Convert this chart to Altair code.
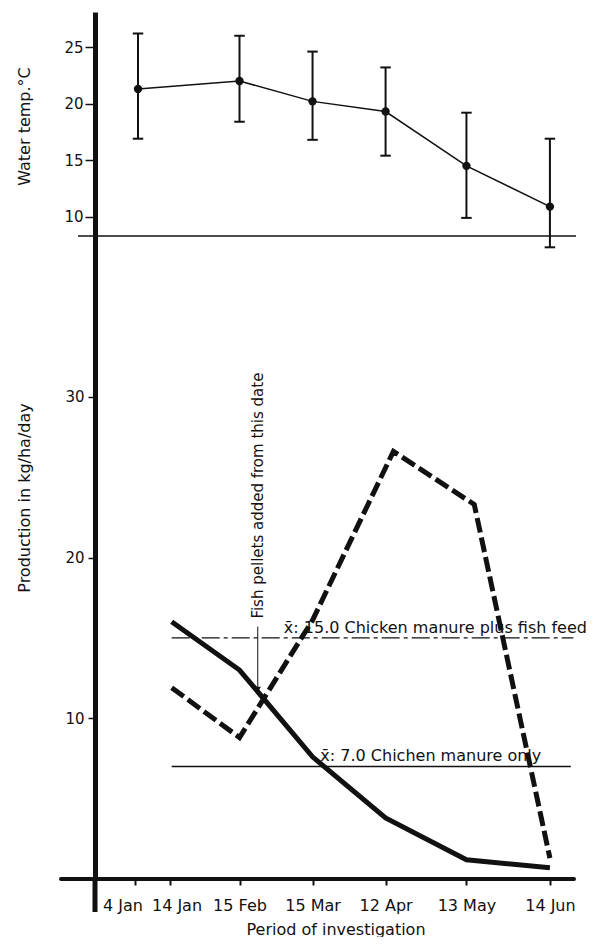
import altair as alt
import pandas as pd

# ---------------- data ----------------
BASE_DATE = "1979-01-04"

tick_dates = ["1979-01-04", "1979-01-14", "1979-02-15", "1979-03-15",
              "1979-04-12", "1979-05-13", "1979-06-14"]
tick_labels = ["4 Jan", "14 Jan", "15 Feb", "15 Mar", "12 Apr", "13 May", "14 Jun"]

temp_dates = ["1979-01-05", "1979-02-15", "1979-03-15", "1979-04-12",
              "1979-05-13", "1979-06-14"]
temp_mean = [21.3, 22.0, 20.2, 19.3, 14.5, 10.9]
temp_high = [26.2, 26.0, 24.6, 23.2, 19.2, 16.9]
temp_low = [16.9, 18.4, 16.8, 15.4, 9.9, 7.3]

manure_dates = ["1979-01-15", "1979-02-15", "1979-03-15", "1979-04-12",
                "1979-05-13", "1979-06-14"]
manure_only = [16.0, 13.0, 7.6, 3.8, 1.2, 0.7]

feed_dates = ["1979-01-15", "1979-02-15", "1979-03-15", "1979-04-15",
              "1979-05-16", "1979-06-14"]
manure_feed = [11.9, 8.8, 16.1, 26.6, 23.3, 1.3]

mean_values = [15.0, 7.0]
mean_labels = ["x\u0304: 15.0 Chicken manure plus fish feed",
               "x\u0304: 7.0 Chichen manure only"]
mean_start = ["1979-01-15", "1979-01-15"]
mean_end = ["1979-06-23", "1979-06-22"]
mean_label_dates = ["1979-03-04", "1979-03-18"]

arrow_date = ["1979-02-22"]
arrow_top = [15.7]
arrow_tip = [11.6]
arrow_text_start = [16.2]
arrow_text = ["Fish pellets added from this date"]


def to_days(dates):
    base = pd.Timestamp(BASE_DATE)
    return [(pd.Timestamp(d) - base).days for d in dates]


# ---------------- style ----------------
W = 481
H_TOP = 224
H_BOT = 643
INK = "#111111"
FONT = "DejaVu Sans"

tick_days = to_days(tick_dates)
label_map = "{" + ",".join(f"'{d}':'{l}'" for d, l in zip(tick_days, tick_labels)) + "}"

# the original axis is stretched at its start: piecewise linear scale
x_scale = alt.Scale(domain=[-11, tick_days[0], tick_days[1], tick_days[2], 171],
                    range=[0, 39.5, 74.5, 144.5, W], nice=False, zero=False)

temp_df = pd.DataFrame({"day": to_days(temp_dates), "mean": temp_mean,
                        "hi": temp_high, "lo": temp_low})
solid_df = pd.DataFrame({"day": to_days(manure_dates), "value": manure_only})
dash_df = pd.DataFrame({"day": to_days(feed_dates), "value": manure_feed})
mean_df = pd.DataFrame({"start": to_days(mean_start), "end": to_days(mean_end),
                        "value": mean_values, "label": mean_labels,
                        "lday": to_days(mean_label_dates)})
arrow_df = pd.DataFrame({"day": to_days(arrow_date), "top": arrow_top,
                         "tip": arrow_tip, "tstart": arrow_text_start,
                         "text": arrow_text})
one = pd.DataFrame({"k": [0]})

# ---------------- top panel ----------------
y_top = alt.Scale(domain=[8.3, 28.1], nice=False, zero=False)
base_t = alt.Chart(temp_df).encode(x=alt.X("day:Q", scale=x_scale, axis=None))

t_line = base_t.mark_line(color=INK, strokeWidth=1.5).encode(
    y=alt.Y("mean:Q", scale=y_top,
            axis=alt.Axis(values=[10, 15, 20, 25], title="Water temp.\u00b0C",
                          domainWidth=5, tickSize=10, tickWidth=1.5,
                          labelPadding=2, labelFontSize=15,
                          titleFontSize=16, titleAngle=270,
                          titleX=-70.5, titleY=H_TOP / 2 + 2,
                          titleAlign="center", titleBaseline="middle"))
)
t_err = base_t.mark_rule(color=INK, strokeWidth=2).encode(y="lo:Q", y2="hi:Q")
t_cap_hi = base_t.mark_point(shape="M -1 0 L 1 0", size=110, strokeWidth=2,
                             color=INK, filled=False, opacity=1).encode(y="hi:Q")
t_cap_lo = base_t.mark_point(shape="M -1 0 L 1 0", size=110, strokeWidth=2,
                             color=INK, filled=False, opacity=1).encode(y="lo:Q")
t_pts = base_t.mark_point(filled=True, size=70, color=INK, opacity=1).encode(y="mean:Q")
t_base = alt.Chart(one).mark_rule(color=INK, strokeWidth=1.5).encode(
    x=alt.value(-17), x2=alt.value(W), y=alt.value(H_TOP))

top = alt.layer(t_line, t_err, t_cap_hi, t_cap_lo, t_pts, t_base).properties(
    width=W, height=H_TOP)

# ---------------- bottom panel ----------------
y_bot = alt.Scale(domain=[0, 40], nice=False, zero=True)
x_axis = alt.Axis(values=tick_days, labelExpr=label_map + "[datum.value]",
                  domain=False, tickSize=6, tickWidth=2, labelFontSize=16,
                  labelPadding=12, labelOverlap=False, labelFlush=False,
                  labelOffset={"condition": [
                      {"test": f"datum.value === {tick_days[0]}", "value": -12},
                      {"test": f"datum.value === {tick_days[1]}", "value": 7}],
                      "value": 0},
                  title="Period of investigation", titleFontSize=16,
                  titleY=55, titleBaseline="alphabetic")
y_axis = alt.Axis(values=[10, 20, 30], title="Production in kg/ha/day",
                  domainWidth=5, tickSize=7, tickWidth=1.5, labelPadding=4,
                  labelFontSize=15, titleFontSize=16, titleAngle=270,
                  titleX=-70.5, titleY=H_BOT / 2 - 60,
                  titleAlign="center", titleBaseline="middle")

b_solid = alt.Chart(solid_df).mark_line(color=INK, strokeWidth=5).encode(
    x=alt.X("day:Q", scale=x_scale, axis=x_axis),
    y=alt.Y("value:Q", scale=y_bot, axis=y_axis))
b_dash = alt.Chart(dash_df).mark_line(color=INK, strokeWidth=5,
                                      strokeDash=[15, 5]).encode(
    x=alt.X("day:Q", scale=x_scale), y=alt.Y("value:Q"))

m1 = alt.Chart(mean_df.iloc[[0]]).mark_rule(color=INK, strokeWidth=1.4,
                                           strokeDash=[18, 4, 4, 4]).encode(
    x="start:Q", x2="end:Q", y="value:Q")
m2 = alt.Chart(mean_df.iloc[[1]]).mark_rule(color=INK, strokeWidth=1.4).encode(
    x="start:Q", x2="end:Q", y="value:Q")
m_text = alt.Chart(mean_df).mark_text(align="left", baseline="alphabetic", dy=-5,
                                      font=FONT, fontSize=16, color=INK).encode(
    x="lday:Q", y="value:Q", text="label:N")

a_rule = alt.Chart(arrow_df).mark_rule(color=INK, strokeWidth=1).encode(
    x="day:Q", y="top:Q", y2="tip:Q")
a_head = alt.Chart(arrow_df).mark_point(shape="triangle-down", filled=True, size=40,
                                        color=INK, opacity=1, yOffset=-3).encode(
    x="day:Q", y="tip:Q")
a_text = alt.Chart(arrow_df).mark_text(angle=270, align="left", baseline="middle",
                                       font=FONT, fontSize=15, color=INK).encode(
    x="day:Q", y="tstart:Q", text="text:N")

x_line = alt.Chart(one).mark_rule(color=INK, strokeWidth=4, strokeCap="round").encode(
    x=alt.value(-34), x2=alt.value(W - 2), y=alt.value(H_BOT))
y_ext = alt.Chart(one).mark_rule(color=INK, strokeWidth=5).encode(
    x=alt.value(0), y=alt.value(H_BOT), y2=alt.value(H_BOT + 33))

bottom = alt.layer(b_solid, b_dash, m1, m2, m_text, a_rule, a_head, a_text,
                   x_line, y_ext).properties(width=W, height=H_BOT)

chart = (
    alt.vconcat(top, bottom, spacing=0, bounds="flush")
    .resolve_scale(x="independent", y="independent")
    .properties(padding={"left": 8, "top": 4, "right": 2, "bottom": 0})
    .configure_view(stroke=None)
    .configure_axis(labelFont=FONT, titleFont=FONT, titleFontWeight="normal",
                    labelColor=INK, titleColor=INK, tickColor=INK,
                    domainColor=INK, grid=False)
)

chart.save("out.html", embed_options={"renderer": "svg", "actions": False})
